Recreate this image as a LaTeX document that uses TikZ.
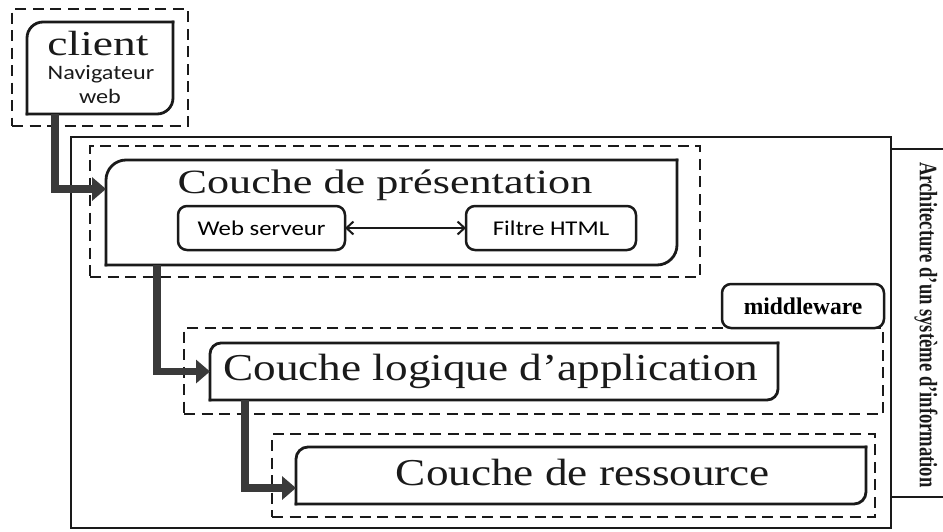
\documentclass[tikz,border=0pt]{standalone}
\usepackage{fontspec}
\usepackage{graphicx}
\usetikzlibrary{arrows.meta,calc}
\setmainfont{Liberation Serif}
\newfontfamily\layerfont{Liberation Serif}[FakeStretch=1.3]
\newfontfamily\labelfont{Carlito}[FakeStretch=1.18]
\newfontfamily\tagfont{Liberation Serif}[FakeStretch=0.98]
\newfontfamily\sidefont{Liberation Serif}
\definecolor{ink}{HTML}{1A1A1A}
\definecolor{flowgray}{HTML}{3A3A3A}

% outline with rounded top-left and bottom-right corners
\newcommand{\slantbox}[2]{%
  \draw[boxline, rounded corners=#2] (#1.south west) -- (#1.north west) -- (#1.north east);
  \draw[boxline, rounded corners=#2] (#1.north east) -- (#1.south east) -- (#1.south west);}

\begin{document}
\begin{tikzpicture}[x=1pt, y=-1pt,
  area/.style={inner sep=0pt, outer sep=0pt},
  boxline/.style={draw=ink, line width=2.8pt, line cap=rect},
  zone/.style={area, draw=ink, line width=2.9pt, dash pattern=on 11pt off 6.5pt},
  frameline/.style={area, draw=ink, line width=2.3pt},
  soft/.style={area, draw=ink, line width=2.5pt, rounded corners=9pt, fill=white},
  flow/.style={draw=flowgray, line width=7.5pt, line join=miter,
    -{Triangle[length=14pt 0 0, width=23pt 0 0]}},
  link/.style={draw=ink, line width=2pt,
    {Straight Barb[length=7pt 0 0, width=13pt 0 0]}-{Straight Barb[length=7pt 0 0, width=13pt 0 0]}},
  txt/.style={inner sep=0pt, text=ink, anchor=base}
]
\useasboundingbox (0,0) rectangle (943,531);
\fill[white] (0,0) rectangle (943,531);

% outer frame and side label box
\node[frameline, minimum width=820pt, minimum height=391pt] (frame) at (481,332.5) {};
\node[frameline, minimum width=69pt, minimum height=348pt] (sidebox) at (925.5,323) {};
\node[inner sep=0pt, rotate=-90, text=ink] (sidelabel) at (926,325)
  {\sidefont\bfseries\fontsize{18.6}{18.6}\selectfont\scalebox{1}[1.35]{Architecture d’un système d’information}};

% dashed zones
\node[zone, minimum width=176pt, minimum height=117pt] (clientzone) at (100,67.5) {};
\node[zone, minimum width=610pt, minimum height=131pt] (preszone) at (395,211.5) {};
\node[zone, minimum width=699pt, minimum height=86pt] (logiczone) at (533.5,371) {};
\node[zone, minimum width=603pt, minimum height=83pt] (reszone) at (573.5,475.5) {};

% layer boxes
\node[area, minimum width=146pt, minimum height=92pt] (client) at (100,68) {};
\node[area, minimum width=571pt, minimum height=105pt] (pres) at (391.5,212.5) {};
\node[area, minimum width=568pt, minimum height=57pt] (logic) at (494,371.5) {};
\node[area, minimum width=570pt, minimum height=57pt] (res) at (581,475.5) {};
\slantbox{client}{16pt}
\slantbox{pres}{20pt}
\slantbox{logic}{11pt}
\slantbox{res}{12pt}

% texts of the client box
\node[txt] (clientname) at (98,55) {\layerfont\fontsize{35}{35}\selectfont client};
\node[txt] (clientnav) at (101,79) {\labelfont\fontsize{20.5}{20.5}\selectfont Navigateur};
\node[txt] (clientweb) at (100,103) {\labelfont\fontsize{20.5}{20.5}\selectfont web};

% layer titles
\node[txt] (presname) at (385,193) {\layerfont\fontsize{34}{34}\selectfont Couche de présentation};
\node[txt] (logicname) at (491,380) {\layerfont\fontsize{38}{38}\selectfont\addfontfeature{FakeStretch=1.19}Couche logique d’application};
\node[txt] (resname) at (583,485) {\layerfont\fontsize{38}{38}\selectfont\addfontfeature{FakeStretch=1.19}Couche de ressource};

% components of the presentation layer
\node[soft, minimum width=167pt, minimum height=44pt] (web) at (261.5,228)
  {\labelfont\fontsize{21}{21}\selectfont Web serveur};
\node[soft, minimum width=170pt, minimum height=44pt] (filtre) at (551,228)
  {\labelfont\fontsize{21}{21}\selectfont Filtre HTML};
\draw[link] (web) -- (filtre);

% middleware tag
\node[soft, minimum width=162pt, minimum height=44pt] (mw) at (803,306)
  {\tagfont\bfseries\fontsize{24}{24}\selectfont middleware};

% flow between layers
\draw[flow] ([xshift=28pt]client.south west) |- ([yshift=-29pt]pres.north west);
\draw[flow] ([xshift=51pt]pres.south west) |- (logic.west);
\draw[flow] ([xshift=35pt]logic.south west) |- ([yshift=16pt]res.south west);
\end{tikzpicture}
\end{document}
